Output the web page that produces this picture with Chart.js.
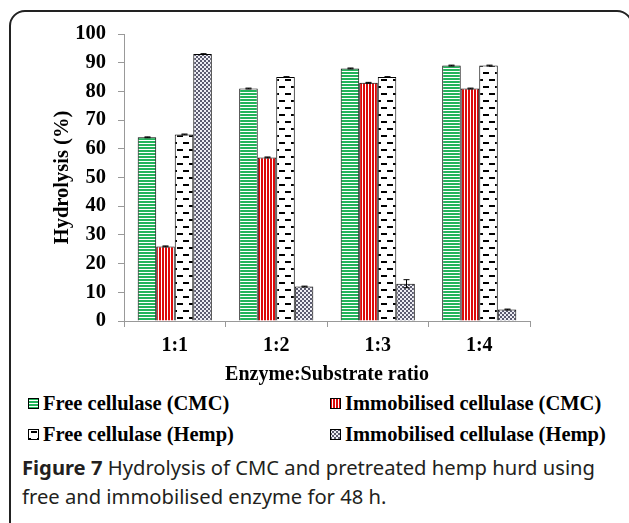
<!DOCTYPE html>
<html>
<head>
<meta charset="utf-8">
<script src="https://cdn.jsdelivr.net/npm/chart.js@4.4.0/dist/chart.umd.min.js"></script>
<style>
  html, body { margin:0; padding:0; background:#fff; }
  body { width:629px; height:523px; position:relative; overflow:hidden; }
  #frame { position:absolute; left:9px; top:10px; width:624px; height:560px; border:2px solid #222; border-radius:16px; box-sizing:border-box; }
  #c { position:absolute; left:0; top:0; }
  .leg { position:absolute; font-family:"Liberation Serif", "Times New Roman", serif; font-weight:bold; font-size:20.5px; color:#000; white-space:nowrap; line-height:24px; }
  .leg canvas { display:inline-block; vertical-align:middle; margin-right:4px; position:relative; top:-2px; }
  .cap { position:absolute; left:22px; font-family:"Noto Sans", "Open Sans", sans-serif; font-size:20.2px; color:#231f20; white-space:nowrap; line-height:29px; }
</style>
</head>
<body>
<div id="frame"></div>
<canvas id="c" width="629" height="390"></canvas>
<div class="leg" id="l0" style="left:28px; top:391px;"></div>
<div class="leg" id="l1" style="left:330px; top:391px;"></div>
<div class="leg" id="l2" style="left:28px; top:422px;"></div>
<div class="leg" id="l3" style="left:330px; top:422px;"></div>
<div class="cap" style="top:453px;"><b>Figure 7</b> Hydrolysis of CMC and pretreated hemp hurd using</div>
<div class="cap" style="top:482px;">free and immobilised enzyme for 48 h.</div>
<script>
const categories = ["1:1", "1:2", "1:3", "1:4"];
const seriesNames = ["Free cellulase (CMC)", "Immobilised cellulase (CMC)", "Free cellulase (Hemp)", "Immobilised cellulase (Hemp)"];
const freeCMC = [64, 81, 88, 89];
const immCMC = [26, 57, 83, 81];
const freeHemp = [65, 85, 85, 89];
const immHemp = [93, 12, 13, 4];
const errFreeCMC = [0.15, 0.15, 0.15, 0.15];
const errImmCMC = [0.15, 0.15, 0.15, 0.15];
const errFreeHemp = [0.15, 0.15, 0.15, 0.15];
const errImmHemp = [0.15, 0.15, 1.4, 0.15];
const yTicks = [0, 10, 20, 30, 40, 50, 60, 70, 80, 90, 100];

function makeTile(w, h, draw) {
  const t = document.createElement('canvas');
  t.width = w; t.height = h;
  const g = t.getContext('2d');
  draw(g);
  return t;
}
const tiles = [
  makeTile(3, 3, g => { g.fillStyle = '#ffffff'; g.fillRect(0,0,3,3); g.fillStyle = '#22b35a'; g.fillRect(0,0,3,2); }),
  makeTile(3, 3, g => { g.fillStyle = '#ffffff'; g.fillRect(0,0,3,3); g.fillStyle = '#dd0a0a'; g.fillRect(0,0,2,3); }),
  makeTile(12, 14, g => { g.fillStyle = '#ffffff'; g.fillRect(0,0,12,14); g.fillStyle = '#000'; g.fillRect(3,2,6,2); g.fillRect(9,9,3,2); g.fillRect(0,9,3,2); }),
  makeTile(4, 4, g => { g.fillStyle = '#eeeef4'; g.fillRect(0,0,4,4); g.fillStyle = '#5c5c70'; g.fillRect(0,0,2,2); g.fillRect(2,2,2,2); })
];
const ctx = document.getElementById('c').getContext('2d');
const patterns = tiles.map(t => ctx.createPattern(t, 'repeat'));

const values = [freeCMC, immCMC, freeHemp, immHemp];
const errors = [errFreeCMC, errImmCMC, errFreeHemp, errImmHemp];

seriesNames.forEach((name, i) => {
  const el = document.getElementById('l' + i);
  const sw = document.createElement('canvas');
  sw.width = 11; sw.height = 11;
  const g = sw.getContext('2d');
  g.fillStyle = g.createPattern(tiles[i], 'repeat');
  g.fillRect(0,0,11,11);
  g.strokeStyle = '#000'; g.lineWidth = 1;
  g.strokeRect(0.5,0.5,10,10);
  el.appendChild(sw);
  el.appendChild(document.createTextNode(name));
});

const errorBars = {
  id: 'errorBars',
  afterDatasetsDraw(chart) {
    const c = chart.ctx;
    const ys = chart.scales.y;
    c.save();
    c.strokeStyle = '#000';
    c.lineWidth = 1;
    chart.data.datasets.forEach((ds, di) => {
      const meta = chart.getDatasetMeta(di);
      meta.data.forEach((bar, i) => {
        const v = ds.data[i], e = errors[di][i];
        const x = Math.round(bar.x) + 0.5;
        const yt = ys.getPixelForValue(v + e), yb = ys.getPixelForValue(v - e);
        c.beginPath();
        c.moveTo(x, yt); c.lineTo(x, yb);
        c.moveTo(x - 3, yt); c.lineTo(x + 3, yt);
        c.moveTo(x - 3, yb); c.lineTo(x + 3, yb);
        c.stroke();
      });
    });
    c.restore();
  }
};

const serif = "'Liberation Serif', 'Times New Roman', serif";
new Chart(ctx, {
  type: 'bar',
  data: {
    labels: categories,
    datasets: seriesNames.map((n, i) => ({
      label: n,
      data: values[i],
      backgroundColor: patterns[i],
      borderColor: '#000',
      borderWidth: 1,
      categoryPercentage: 0.73,
      barPercentage: 1.0
    }))
  },
  options: {
    responsive: false,
    devicePixelRatio: 1,
    animation: false,
    layout: { padding: { left: 0, right: 99, top: 34, bottom: 0 } },
    plugins: { legend: { display: false }, tooltip: { enabled: false } },
    scales: {
      x: {
        grid: { display: true, drawOnChartArea: false, tickLength: 6, color: '#999', offset: true },
        border: { display: true, color: '#999', width: 1 },
        ticks: { color: '#000', font: { family: serif, size: 20, weight: 'bold' }, padding: 7 },
        title: { display: true, text: 'Enzyme:Substrate ratio', color: '#000', font: { family: serif, size: 20, weight: 'bold' }, padding: { top: 0, bottom: 3 } },
        afterFit(s) { s.height = 69; }
      },
      y: {
        min: 0, max: 100,
        afterBuildTicks(s) { s.ticks = yTicks.map(v => ({ value: v })); },
        grid: { display: true, drawOnChartArea: false, tickLength: 6, color: '#999' },
        border: { display: true, color: '#999', width: 1 },
        ticks: { color: '#000', font: { family: serif, size: 20.5, weight: 'bold' }, padding: 12 },
        title: { display: true, text: 'Hydrolysis (%)', color: '#000', font: { family: serif, size: 20.5, weight: 'bold' }, padding: { top: 50, bottom: 0 } },
        afterFit(s) { s.width = 124; }
      }
    }
  },
  plugins: [errorBars]
});
</script>
</body>
</html>
